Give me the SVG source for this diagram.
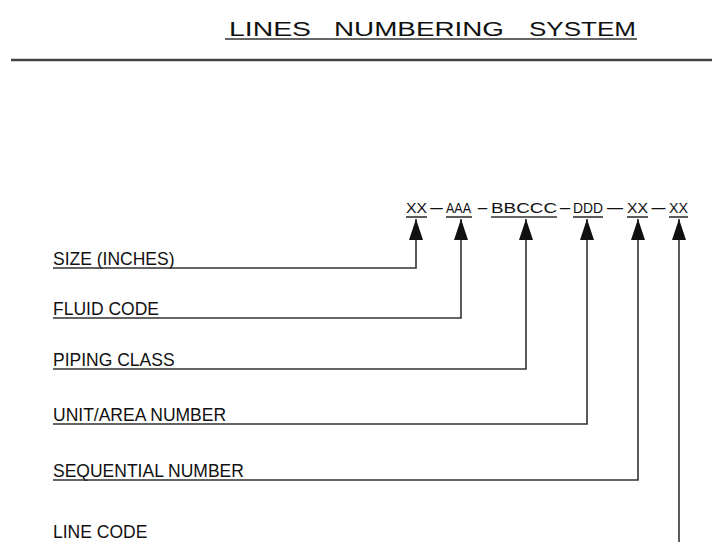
<svg xmlns="http://www.w3.org/2000/svg" width="712" height="542" viewBox="0 0 712 542">
<style>
text { font-family: "Liberation Sans", Arial, sans-serif; fill: #111; }
.title { font-size: 20px; }
.lbl { font-size: 17.5px; }
.code { font-size: 15px; }
.ln { fill: none; stroke: #333; stroke-width: 1.6; }
.rule { fill: none; stroke: #444; stroke-width: 2.5; }
</style>
<defs>
<marker id="ah" markerUnits="userSpaceOnUse" markerWidth="21" markerHeight="14" viewBox="0 0 21 14" refX="21" refY="7" orient="auto-start-reverse">
<path d="M0,0 L21,7 L0,14 z" fill="#111"/>
</marker>
</defs>
<rect width="712" height="542" fill="#fff"/>
<g id="title">
<text class="title" y="36"><tspan x="229" textLength="82" lengthAdjust="spacingAndGlyphs">LINES</tspan><tspan x="334" textLength="170" lengthAdjust="spacingAndGlyphs">NUMBERING</tspan><tspan x="529" textLength="107" lengthAdjust="spacingAndGlyphs">SYSTEM</tspan></text>
<line class="ln" x1="225" y1="39" x2="637" y2="39"/>
<line class="rule" x1="11" y1="60" x2="712" y2="60"/>
</g>
<g id="code">
<text class="code" y="213"><tspan x="406" textLength="21" lengthAdjust="spacingAndGlyphs">XX</tspan><tspan x="428" textLength="17" lengthAdjust="spacingAndGlyphs">-</tspan><tspan x="446" textLength="25" lengthAdjust="spacingAndGlyphs">AAA</tspan><tspan x="476" textLength="13" lengthAdjust="spacingAndGlyphs">-</tspan><tspan x="491" textLength="66" lengthAdjust="spacingAndGlyphs">BBCCC</tspan><tspan x="558" textLength="14" lengthAdjust="spacingAndGlyphs">-</tspan><tspan x="573" textLength="30" lengthAdjust="spacingAndGlyphs">DDD</tspan><tspan x="604" textLength="22" lengthAdjust="spacingAndGlyphs">-</tspan><tspan x="627" textLength="21" lengthAdjust="spacingAndGlyphs">XX</tspan><tspan x="649" textLength="19" lengthAdjust="spacingAndGlyphs">-</tspan><tspan x="669" textLength="19" lengthAdjust="spacingAndGlyphs">XX</tspan></text>
<g class="ln">
<line x1="406" y1="217" x2="427" y2="217"/>
<line x1="446" y1="217" x2="472" y2="217"/>
<line x1="491" y1="217" x2="557" y2="217"/>
<line x1="573" y1="217" x2="603" y2="217"/>
<line x1="627" y1="217" x2="648" y2="217"/>
<line x1="669" y1="217" x2="688" y2="217"/>
</g>
</g>
<g id="label-size"><text class="lbl" x="53" y="265">SIZE (INCHES)</text></g>
<g id="label-fluid"><text class="lbl" x="53" y="315">FLUID CODE</text></g>
<g id="label-piping"><text class="lbl" x="53" y="366">PIPING CLASS</text></g>
<g id="label-unit"><text class="lbl" x="53" y="421">UNIT/AREA NUMBER</text></g>
<g id="label-seq"><text class="lbl" x="53" y="477">SEQUENTIAL NUMBER</text></g>
<g id="label-line"><text class="lbl" x="53" y="538">LINE CODE</text></g>
<g id="connectors" class="ln">
<path d="M416,219 V268 H53" marker-start="url(#ah)"/>
<path d="M461,219 V318 H53" marker-start="url(#ah)"/>
<path d="M526,219 V369 H53" marker-start="url(#ah)"/>
<path d="M587,219 V424 H53" marker-start="url(#ah)"/>
<path d="M638,219 V480 H53" marker-start="url(#ah)"/>
<path d="M679,219 V542" marker-start="url(#ah)"/>
</g>
</svg>
